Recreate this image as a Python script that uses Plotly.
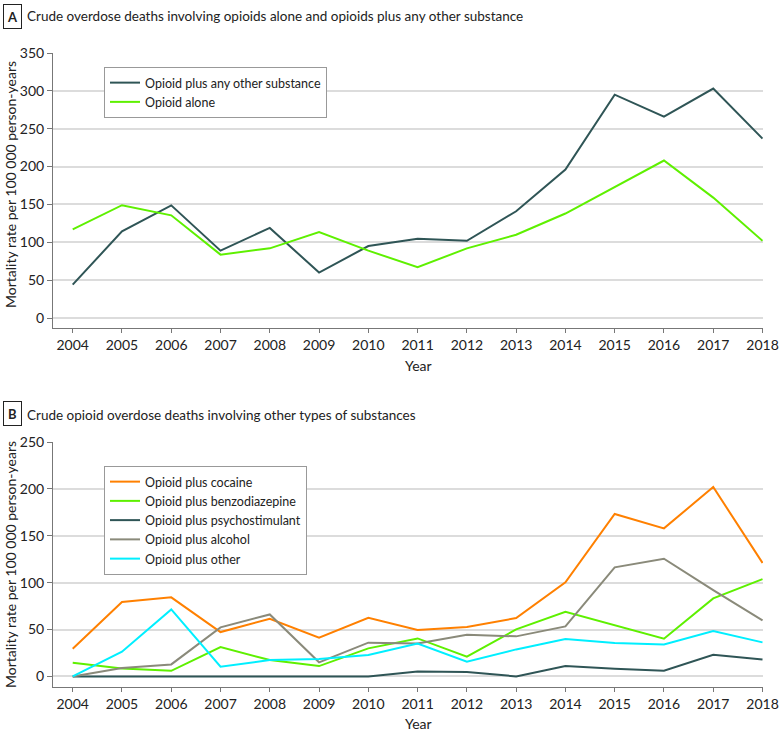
import plotly.graph_objects as go

years = list(range(2004, 2019))

# Panel A
opioid_plus_any = [44, 114.5, 148.8, 89, 119, 60, 95, 104.8, 102, 141, 196, 295, 266, 303, 237]
opioid_alone = [117, 149, 135.6, 83.7, 92, 113.6, 89, 67, 92, 110, 138, 173.5, 208, 159, 102]

# Panel B
cocaine = [29.5, 79.3, 84.3, 47.3, 61.5, 41.3, 62.6, 49.4, 52.6, 62.2, 100.3, 173.2, 157.9, 202, 121]
benzo = [14.6, 8.5, 6, 31.3, 17.4, 11, 29.9, 40.5, 21, 50.1, 69, 54.8, 40.2, 83.2, 103.8]
psycho = [0, 0, 0, 0, 0, 0, 0, 5.3, 4.6, 0, 11, 8.2, 6, 23.1, 18.1]
alcohol = [0, 8.9, 12.8, 52.3, 66.1, 15, 36, 35, 44.5, 42.7, 53.3, 116.3, 125.5, 92, 59.7]
other = [0, 26.3, 71.5, 10.3, 17.4, 18.5, 22.8, 35, 15.6, 28.8, 39.8, 35.6, 34.1, 48.4, 36.3]

ticks_a = [0, 50, 100, 150, 200, 250, 300, 350]
ticks_b = [0, 50, 100, 150, 200, 250]

TEAL = "#2f5556"
LIME = "#5ef000"
ORANGE = "#ff8000"
GRAY = "#8a8a7a"
CYAN = "#00efff"
FONT = "Lato, sans-serif"
TXT = "#222"

fig = go.Figure()

def add(x, y, name, color, xa, ya, legend):
    fig.add_trace(go.Scatter(x=x, y=y, name=name, mode="lines",
                             line=dict(color=color, width=2),
                             xaxis=xa, yaxis=ya, legend=legend, cliponaxis=False))

add(years, opioid_plus_any, "Opioid plus any other substance", TEAL, "x", "y", "legend")
add(years, opioid_alone, "Opioid alone", LIME, "x", "y", "legend")
add(years, cocaine, "Opioid plus cocaine", ORANGE, "x2", "y2", "legend2")
add(years, benzo, "Opioid plus benzodiazepine", LIME, "x2", "y2", "legend2")
add(years, psycho, "Opioid plus psychostimulant", TEAL, "x2", "y2", "legend2")
add(years, alcohol, "Opioid plus alcohol", GRAY, "x2", "y2", "legend2")
add(years, other, "Opioid plus other", CYAN, "x2", "y2", "legend2")

xcommon = dict(range=[2003.6, 2018.01], tickmode="array", tickvals=years,
               ticktext=[str(y) for y in years], showgrid=False, zeroline=False,
               showline=True, linecolor="#777", linewidth=1, ticks="outside",
               ticklen=4, tickcolor="#777", tickfont=dict(size=14, color=TXT),
               automargin=False)
ycommon = dict(showgrid=True, gridcolor="#dcdcdc", gridwidth=1.5, zeroline=False,
               showline=True, linecolor="#777", linewidth=1, ticks="outside",
               ticklen=5, tickcolor="#777", tickfont=dict(size=14, color=TXT),
               tickmode="array", automargin=False)

A_dom = [(687 - 328) / 634, 1.0]
B_dom = [0.0, (687 - 442) / 634]

fig.update_layout(
    width=780, height=742, autosize=False,
    margin=dict(l=53, r=17, t=53, b=55, autoexpand=False),
    paper_bgcolor="white", plot_bgcolor="white",
    font=dict(family=FONT, size=14, color=TXT),
    xaxis=dict(**xcommon, anchor="y", domain=[0, 1]),
    yaxis=dict(**ycommon, domain=A_dom, range=[-13.2, 350], tickvals=ticks_a, anchor="x"),
    xaxis2=dict(**xcommon, anchor="y2", domain=[0, 1]),
    yaxis2=dict(**ycommon, domain=B_dom, range=[-11.3, 250], tickvals=ticks_b, anchor="x2"),
    legend=dict(x=(104 - 53) / 710, y=(687 - 67) / 634, xanchor="left", yanchor="top",
                bordercolor="#999", borderwidth=1, bgcolor="white",
                font=dict(size=12.5, color=TXT), tracegroupgap=0),
    legend2=dict(x=(104 - 53) / 710, y=(687 - 466) / 634, xanchor="left", yanchor="top",
                 bordercolor="#999", borderwidth=1, bgcolor="white",
                 font=dict(size=12.5, color=TXT), tracegroupgap=0),
    showlegend=True,
)

ytitle = "Mortality rate per 100 000 person-years"

def py_(py):
    return (687 - py) / 634

def px_(px):
    return (px - 53) / 710

ann = []
for letter, cy in [("A", 17), ("B", 413)]:
    ann.append(dict(text="<b>" + letter + "</b>", x=px_(12), y=py_(cy),
                    xref="paper", yref="paper", showarrow=False, xanchor="center", yanchor="middle",
                    bordercolor="#222", borderwidth=1, borderpad=2, font=dict(size=13, color=TXT),
                    width=13, height=19))
ann.append(dict(text="Crude overdose deaths involving opioids alone and opioids plus any other substance",
                x=px_(25), y=py_(16.5), xref="paper", yref="paper", showarrow=False,
                xanchor="left", yanchor="middle", font=dict(size=13.5, color=TXT)))
ann.append(dict(text="Crude opioid overdose deaths involving other types of substances",
                x=px_(25), y=py_(415), xref="paper", yref="paper", showarrow=False,
                xanchor="left", yanchor="middle", font=dict(size=13.5, color=TXT)))
for cy in [185, 565]:
    ann.append(dict(text=ytitle, x=px_(10), y=py_(cy), xref="paper", yref="paper",
                    showarrow=False, textangle=-90, xanchor="center", yanchor="middle",
                    font=dict(size=14, color=TXT)))
for cy in [365, 723]:
    ann.append(dict(text="Year", x=px_(418), y=py_(cy), xref="paper", yref="paper",
                    showarrow=False, xanchor="center", yanchor="middle",
                    font=dict(size=14, color=TXT)))
fig.update_layout(annotations=ann)

fig.write_html("out.html", config={"displayModeBar": False},
               post_script="document.body.style.margin='0';document.body.style.overflow='hidden';")
